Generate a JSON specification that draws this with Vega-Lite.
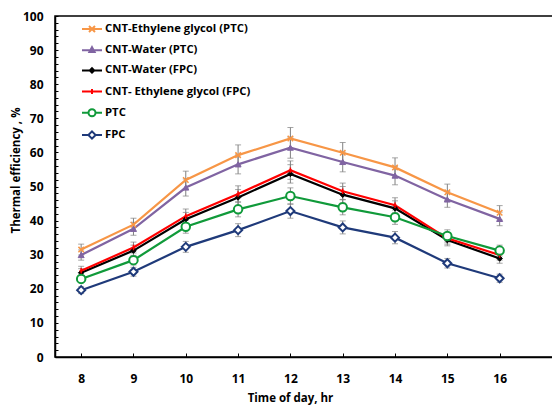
{
  "$schema": "https://vega.github.io/schema/vega-lite/v6.json",
  "width": 498,
  "height": 341,
  "autosize": {"type": "none"},
  "padding": {"left": 55, "top": 16, "right": 0, "bottom": 51},
  "background": "white",
  "config": {
    "view": {"stroke": "#000", "strokeWidth": 1.5},
    "font": "Open Sans",
    "axis": {
      "grid": false,
      "domainColor": "#000",
      "domainWidth": 1.5,
      "tickColor": "#000",
      "tickWidth": 1,
      "labelFont": "Open Sans",
      "labelFontWeight": "bold",
      "labelFontSize": 12,
      "labelColor": "#000",
      "titleFont": "Open Sans",
      "titleFontWeight": "bold",
      "titleFontSize": 11.5,
      "titleColor": "#000"
    }
  },
  "data": {
    "values": [
      {"series": "CNT-Ethylene glycol (PTC)", "hr": 8, "v": 31.5, "e": 1.6},
      {"series": "CNT-Ethylene glycol (PTC)", "hr": 9, "v": 38.8, "e": 1.9},
      {"series": "CNT-Ethylene glycol (PTC)", "hr": 10, "v": 51.9, "e": 2.6},
      {"series": "CNT-Ethylene glycol (PTC)", "hr": 11, "v": 59.2, "e": 3.0},
      {"series": "CNT-Ethylene glycol (PTC)", "hr": 12, "v": 64.1, "e": 3.2},
      {"series": "CNT-Ethylene glycol (PTC)", "hr": 13, "v": 59.9, "e": 3.0},
      {"series": "CNT-Ethylene glycol (PTC)", "hr": 14, "v": 55.6, "e": 2.8},
      {"series": "CNT-Ethylene glycol (PTC)", "hr": 15, "v": 48.3, "e": 2.4},
      {"series": "CNT-Ethylene glycol (PTC)", "hr": 16, "v": 42.3, "e": 2.1},
      {"series": "CNT-Water (PTC)", "hr": 8, "v": 29.9, "e": 1.5},
      {"series": "CNT-Water (PTC)", "hr": 9, "v": 37.6, "e": 1.9},
      {"series": "CNT-Water (PTC)", "hr": 10, "v": 49.7, "e": 2.5},
      {"series": "CNT-Water (PTC)", "hr": 11, "v": 56.5, "e": 2.8},
      {"series": "CNT-Water (PTC)", "hr": 12, "v": 61.4, "e": 3.1},
      {"series": "CNT-Water (PTC)", "hr": 13, "v": 57.2, "e": 2.9},
      {"series": "CNT-Water (PTC)", "hr": 14, "v": 53.2, "e": 2.7},
      {"series": "CNT-Water (PTC)", "hr": 15, "v": 46.2, "e": 2.3},
      {"series": "CNT-Water (PTC)", "hr": 16, "v": 40.5, "e": 2.0},
      {"series": "CNT-Water (FPC)", "hr": 8, "v": 24.7, "e": 1.2},
      {"series": "CNT-Water (FPC)", "hr": 9, "v": 31.2, "e": 1.6},
      {"series": "CNT-Water (FPC)", "hr": 10, "v": 40.4, "e": 2.0},
      {"series": "CNT-Water (FPC)", "hr": 11, "v": 46.8, "e": 2.3},
      {"series": "CNT-Water (FPC)", "hr": 12, "v": 53.7, "e": 2.7},
      {"series": "CNT-Water (FPC)", "hr": 13, "v": 47.6, "e": 2.4},
      {"series": "CNT-Water (FPC)", "hr": 14, "v": 43.6, "e": 2.2},
      {"series": "CNT-Water (FPC)", "hr": 15, "v": 34.3, "e": 1.7},
      {"series": "CNT-Water (FPC)", "hr": 16, "v": 28.9, "e": 1.4},
      {"series": "CNT- Ethylene glycol (FPC)", "hr": 8, "v": 25.3, "e": 1.3},
      {"series": "CNT- Ethylene glycol (FPC)", "hr": 9, "v": 32.1, "e": 1.6},
      {"series": "CNT- Ethylene glycol (FPC)", "hr": 10, "v": 41.3, "e": 2.1},
      {"series": "CNT- Ethylene glycol (FPC)", "hr": 11, "v": 47.8, "e": 2.4},
      {"series": "CNT- Ethylene glycol (FPC)", "hr": 12, "v": 54.8, "e": 2.7},
      {"series": "CNT- Ethylene glycol (FPC)", "hr": 13, "v": 48.6, "e": 2.4},
      {"series": "CNT- Ethylene glycol (FPC)", "hr": 14, "v": 44.5, "e": 2.2},
      {"series": "CNT- Ethylene glycol (FPC)", "hr": 15, "v": 34.8, "e": 1.7},
      {"series": "CNT- Ethylene glycol (FPC)", "hr": 16, "v": 29.9, "e": 1.5},
      {"series": "PTC", "hr": 8, "v": 22.9, "e": 1.1},
      {"series": "PTC", "hr": 9, "v": 28.4, "e": 1.4},
      {"series": "PTC", "hr": 10, "v": 38.2, "e": 1.9},
      {"series": "PTC", "hr": 11, "v": 43.3, "e": 2.2},
      {"series": "PTC", "hr": 12, "v": 47.2, "e": 2.4},
      {"series": "PTC", "hr": 13, "v": 43.9, "e": 2.2},
      {"series": "PTC", "hr": 14, "v": 41.0, "e": 2.1},
      {"series": "PTC", "hr": 15, "v": 35.5, "e": 1.8},
      {"series": "PTC", "hr": 16, "v": 31.2, "e": 1.6},
      {"series": "FPC", "hr": 8, "v": 19.6, "e": 1.0},
      {"series": "FPC", "hr": 9, "v": 25.0, "e": 1.3},
      {"series": "FPC", "hr": 10, "v": 32.3, "e": 1.6},
      {"series": "FPC", "hr": 11, "v": 37.2, "e": 1.9},
      {"series": "FPC", "hr": 12, "v": 42.8, "e": 2.1},
      {"series": "FPC", "hr": 13, "v": 38.0, "e": 1.9},
      {"series": "FPC", "hr": 14, "v": 35.0, "e": 1.8},
      {"series": "FPC", "hr": 15, "v": 27.5, "e": 1.4},
      {"series": "FPC", "hr": 16, "v": 23.1, "e": 1.2}
    ]
  },
  "encoding": {
    "x": {
      "field": "hr",
      "type": "quantitative",
      "scale": {"domain": [7.5, 17.02], "nice": false, "zero": false},
      "axis": {
        "values": [8, 9, 10, 11, 12, 13, 14, 15, 16],
        "tickSize": -4,
        "labelPadding": 20,
        "labelFlush": false,
        "title": "Time of day, hr",
        "titleX": 235,
        "titleY": 41,
        "titleBaseline": "middle"
      }
    },
    "y": {
      "field": "v",
      "type": "quantitative",
      "scale": {"domain": [0, 100], "nice": false},
      "axis": {
        "values": [0, 2, 4, 6, 8, 10, 12, 14, 16, 18, 20, 22, 24, 26, 28, 30, 32, 34, 36, 38, 40, 42, 44, 46, 48, 50, 52, 54, 56, 58, 60, 62, 64, 66, 68, 70, 72, 74, 76, 78, 80, 82, 84, 86, 88, 90, 92, 94, 96, 98, 100],
        "labelExpr": "datum.value % 10 === 0 ? datum.label : ''",
        "labelOverlap": false,
        "tickSize": -3,
        "labelPadding": 15,
        "title": "Thermal efficiency , %",
        "titleAngle": -90,
        "titleX": -39,
        "titleY": 154,
        "titleBaseline": "middle"
      }
    }
  },
  "layer": [
    {
      "mark": {"type": "errorbar", "ticks": {"size": 6}, "color": "#808080", "thickness": 1},
      "encoding": {
        "yError": {"field": "e"},
        "detail": {"field": "series", "type": "nominal"}
      }
    },
    {
      "mark": {"type": "line", "strokeWidth": 2.2},
      "encoding": {
        "color": {
          "field": "series",
          "type": "nominal",
          "scale": {
            "domain": ["CNT-Ethylene glycol (PTC)", "CNT-Water (PTC)", "CNT-Water (FPC)", "CNT- Ethylene glycol (FPC)", "PTC", "FPC"],
            "range": ["#F79646", "#8064A2", "#000000", "#FF0000", "#109A3A", "#1F3A7A"]
          },
          "legend": {
            "title": null,
            "orient": "none",
            "legendX": 26,
            "legendY": 2,
            "padding": 0,
            "symbolSize": 400,
            "symbolStrokeWidth": 2,
            "labelFont": "Open Sans",
            "labelFontSize": 11.3,
            "labelFontWeight": "bold",
            "labelColor": "#000",
            "labelOffset": 2,
            "labelLimit": 300,
            "rowPadding": 3.2,
            "encode": {
              "symbols": {
                "update": {
                  "shape": {"signal": "datum.value === 'CNT-Ethylene glycol (PTC)' ? 'M-1,0H1M-0.3,-0.3L0.3,0.3M-0.3,0.3L0.3,-0.3' : datum.value === 'CNT-Water (PTC)' ? 'M-1,0H1M0,-0.3L0.26,0.18L-0.26,0.18Z' : datum.value === 'CNT-Water (FPC)' ? 'M-1,0H1M0,-0.22L0.22,0L0,0.22L-0.22,0Z' : datum.value === 'CNT- Ethylene glycol (FPC)' ? 'M-1,0H1M0,-0.25V0.25' : datum.value === 'PTC' ? 'M-1,0H-0.35M0.35,0H1M-0.35,0A0.35,0.35 0 1,0 0.35,0A0.35,0.35 0 1,0 -0.35,0Z' : 'M-1,0H-0.36M0.36,0H1M0,-0.36L0.36,0L0,0.36L-0.36,0Z'"},
                  "fill": {"signal": "(datum.value === 'PTC' || datum.value === 'FPC') ? 'white' : scale('color', datum.value)"},
                  "strokeWidth": {"value": 2},
                  "opacity": {"value": 1},
                  "fillOpacity": {"value": 1}
                }
              }
            }
          }
        }
      }
    },
    {
      "transform": [{"filter": {"field": "series", "equal": "CNT-Ethylene glycol (PTC)"}}],
      "mark": {"type": "point", "shape": "M-1,-1L1,1M-1,1L1,-1", "filled": false, "strokeWidth": 1.5, "size": 30, "opacity": 1},
      "encoding": {"color": {"field": "series", "type": "nominal"}}
    },
    {
      "transform": [{"filter": {"field": "series", "equal": "CNT-Water (PTC)"}}],
      "mark": {"type": "point", "shape": "triangle-up", "filled": false, "fill": "#8064A2", "fillOpacity": 1, "strokeWidth": 1, "size": 36, "opacity": 1},
      "encoding": {"color": {"field": "series", "type": "nominal"}}
    },
    {
      "transform": [{"filter": {"field": "series", "equal": "CNT-Water (FPC)"}}],
      "mark": {"type": "point", "shape": "diamond", "filled": false, "fill": "#000000", "fillOpacity": 1, "strokeWidth": 1, "size": 30, "opacity": 1},
      "encoding": {"color": {"field": "series", "type": "nominal"}}
    },
    {
      "transform": [{"filter": {"field": "series", "equal": "CNT- Ethylene glycol (FPC)"}}],
      "mark": {"type": "point", "shape": "M0,-1V1M-0.6,0H0.6", "filled": false, "strokeWidth": 1.5, "size": 30, "opacity": 1},
      "encoding": {"color": {"field": "series", "type": "nominal"}}
    },
    {
      "transform": [{"filter": {"field": "series", "equal": "PTC"}}],
      "mark": {"type": "point", "shape": "circle", "filled": false, "fill": "white", "fillOpacity": 1, "strokeWidth": 2, "size": 72, "opacity": 1},
      "encoding": {"color": {"field": "series", "type": "nominal"}}
    },
    {
      "transform": [{"filter": {"field": "series", "equal": "FPC"}}],
      "mark": {"type": "point", "shape": "diamond", "filled": false, "fill": "white", "fillOpacity": 1, "strokeWidth": 2, "size": 64, "opacity": 1},
      "encoding": {"color": {"field": "series", "type": "nominal"}}
    }
  ]
}
